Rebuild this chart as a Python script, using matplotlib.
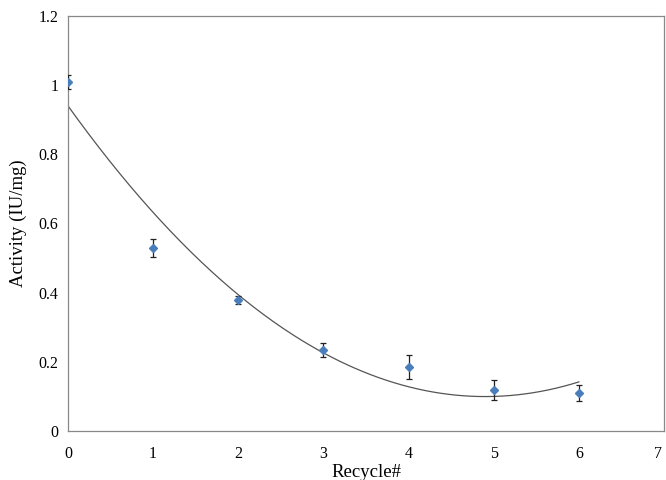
import numpy as np
import matplotlib
matplotlib.use("Agg")
import matplotlib.pyplot as plt
import matplotlib.transforms as mtransforms

recycle = [0, 1, 2, 3, 4, 5, 6]
activity = [1.01, 0.529, 0.379, 0.234, 0.185, 0.119, 0.110]
err = [0.02, 0.025, 0.012, 0.02, 0.035, 0.028, 0.022]
# quadratic trendline coefficients (a, b, c)
trend = [0.035, -0.343, 0.94]

plt.rcParams['font.family'] = ['Liberation Serif', 'DejaVu Serif']

fig = plt.figure(figsize=(6.66, 4.8), dpi=100)
ax = fig.add_axes([0.102, 0.102, 0.895, 0.865])

xs = np.linspace(0, 6, 200)
ax.plot(xs, np.polyval(trend, xs), color='#555555', lw=0.9)
ax.errorbar(recycle, activity, yerr=err, fmt='D', color='#4a7ebb', ms=4.5,
            ecolor='#222222', elinewidth=0.9, capsize=2.5, capthick=0.9, zorder=3)

ax.set_xlim(0, 7)
ax.set_ylim(0, 1.2)
ax.set_xticks(range(0, 8))
ax.set_yticks([0, 0.2, 0.4, 0.6, 0.8, 1.0, 1.2])
ax.set_yticklabels(['0', '0.2', '0.4', '0.6', '0.8', '1', '1.2'])
ax.tick_params(length=0, labelsize=11.5)
ax.tick_params(axis='x', pad=11)
ax.tick_params(axis='y', pad=7)
for s in ax.spines.values():
    s.set_color('#888888')
    s.set_linewidth(0.9)
ax.set_xlabel('Recycle#', fontsize=13.5, labelpad=1.5)
ax.set_ylabel('Activity (IU/mg)', fontsize=13.5, labelpad=8)

fig.canvas.draw()
last = ax.get_xticklabels()[-1]
last.set_transform(last.get_transform() + mtransforms.ScaledTranslation(-6/100, 0, fig.dpi_scale_trans))

fig.savefig('out.png', dpi=100)
